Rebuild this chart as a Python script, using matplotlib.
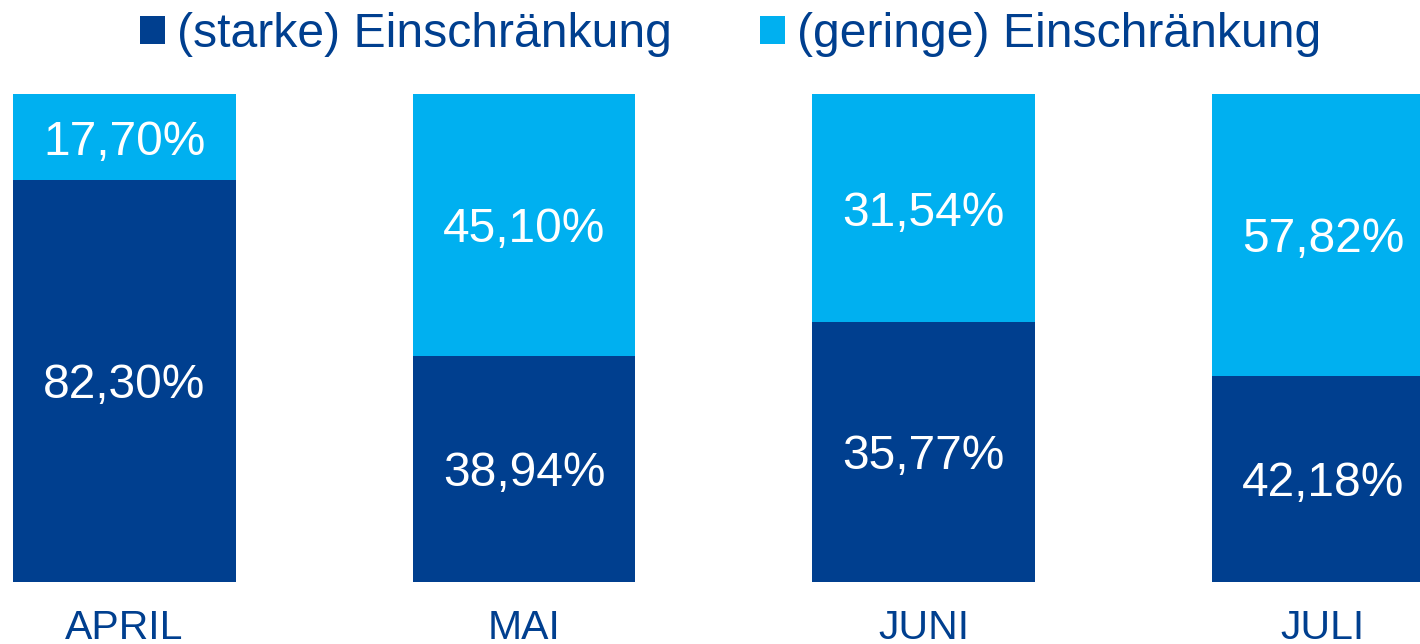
import matplotlib
matplotlib.use("Agg")
import matplotlib.pyplot as plt
import numpy as np

months = ["APRIL", "MAI", "JUNI", "JULI"]
starke = [82.30, 38.94, 35.77, 42.18]
geringe = [17.70, 45.10, 31.54, 57.82]

DARK = "#003F8F"
LIGHT = "#00B0F0"

plt.rcParams["font.family"] = ["Liberation Sans", "DejaVu Sans"]

fig = plt.figure(figsize=(14.2, 6.44), dpi=100)
ax = fig.add_axes([0.0, 0.097, 1.0, 0.757])

x = np.arange(len(months))
s = np.array(starke)
g = np.array(geringe)
total = s + g
# each stack is drawn as 100 %
s_h = s / total * 100
g_h = g / total * 100

width = 0.558
b1 = ax.bar(x, s_h, width, color=DARK, label="(starke) Einschränkung")
b2 = ax.bar(x, g_h, width, bottom=s_h, color=LIGHT, label="(geringe) Einschränkung")

fmt = lambda v: f"{v:.2f}%".replace(".", ",")
for xi, sv, gv, sh, gh in zip(x, s, g, s_h, g_h):
    ax.text(xi, sh / 2, fmt(sv), ha="center", va="center_baseline",
            color="white", fontsize=34.5)
    ax.text(xi, sh + gh / 2, fmt(gv), ha="center", va="center_baseline",
            color="white", fontsize=34.5)

ax.set_xlim(-0.3116, 3.2428)
ax.set_ylim(0, 100)
ax.set_xticks(x)
ax.set_xticklabels(months, fontsize=29.5, color=DARK)
ax.tick_params(axis="x", length=0, pad=20)
ax.set_yticks([])
for sp in ax.spines.values():
    sp.set_visible(False)

fig.legend(handles=[b1, b2], loc="center", bbox_to_anchor=(0.5144, 0.946),
           ncol=2, frameon=False, fontsize=34.7, labelcolor=DARK,
           handlelength=0.52, handleheight=0.52, handletextpad=0.25,
           columnspacing=1.83, borderpad=0, borderaxespad=0)

fig.savefig("out.png", dpi=100, facecolor="white")
